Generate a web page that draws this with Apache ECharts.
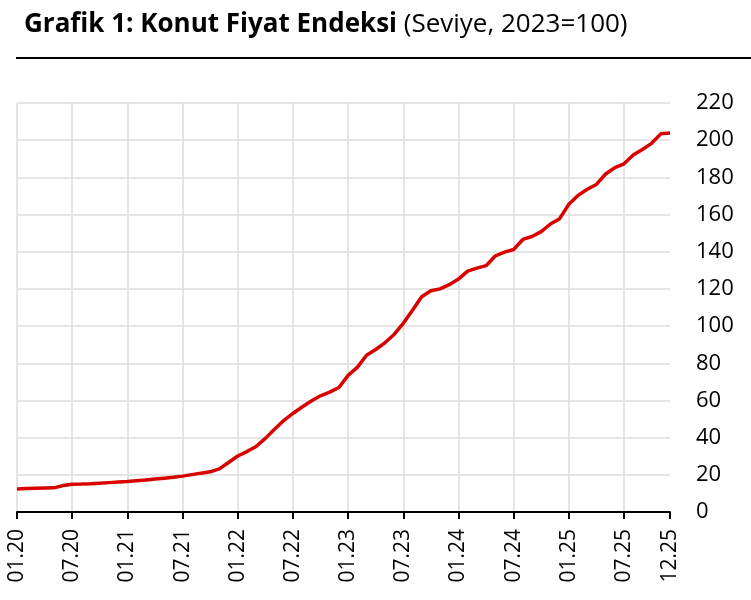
<!DOCTYPE html>
<html>
<head>
<meta charset="utf-8">
<script src="https://cdn.jsdelivr.net/npm/echarts@6/dist/echarts.min.js"></script>
<style>
html,body{margin:0;padding:0;background:#fff;}
#chart{width:751px;height:600px;}
</style>
</head>
<body>
<div id="chart"></div>
<script>
const titleBold = 'Grafik 1: Konut Fiyat Endeksi';
const titleNormal = ' (Seviye, 2023=100)';
const years = ['20','21','22','23','24','25'];
const categories = [];
years.forEach(y => { for (let m = 1; m <= 12; m++) categories.push((m < 10 ? '0' + m : '' + m) + '.' + y); });
const values = [
  12.4, 12.6, 12.8, 12.9, 13.0, 14.2, 14.9, 15.0, 15.2, 15.5, 15.8, 16.1,
  16.4, 16.8, 17.2, 17.7, 18.2, 18.7, 19.3, 20.1, 20.9, 21.6, 23.2, 26.6,
  30.1, 32.5, 35.2, 39.6, 44.5, 49.2, 53.0, 56.5, 59.7, 62.5, 64.5, 67.0,
  73.5, 77.8, 84.3, 87.4, 91.0, 95.5, 101.5, 108.5, 115.8, 119.0, 120.0, 122.3,
  125.3, 129.6, 131.2, 132.5, 137.7, 139.8, 141.2, 146.6, 148.2, 150.8, 154.9, 157.8,
  165.5, 170.3, 173.6, 176.2, 181.8, 185.2, 187.3, 192.0, 195.0, 198.3, 203.4, 203.9
];
const yMin = 0, yMax = 220, yStep = 20;

const chart = echarts.init(document.getElementById('chart'));
const lastIdx = categories.length - 1;
const showIdx = (i) => i % 6 === 0 || i === lastIdx;
chart.setOption({
  animation: false,
  backgroundColor: '#fff',
  textStyle: { fontFamily: 'Open Sans' },
  title: {
    left: 19, top: 7,
    text: '{b|' + titleBold + '}{n|' + titleNormal + '}',
    textStyle: {
      rich: {
        b: { fontFamily: 'Open Sans', fontWeight: 'bold', fontSize: 26, color: '#000' },
        n: { fontFamily: 'Open Sans', fontWeight: 'normal', fontSize: 26, color: '#000' }
      }
    }
  },
  graphic: [{
    type: 'line',
    shape: { x1: 16, y1: 58, x2: 751, y2: 58 },
    style: { stroke: '#000', lineWidth: 2 }
  }],
  grid: { left: 17, right: 81, top: 103, bottom: 88 },
  xAxis: {
    type: 'category',
    data: categories,
    boundaryGap: false,
    axisLine: { lineStyle: { color: '#000', width: 2 } },
    axisTick: { show: true, interval: showIdx, length: 7, lineStyle: { color: '#000', width: 2 } },
    axisLabel: { interval: showIdx, rotate: 90, margin: 17, fontSize: 21, color: '#000', fontFamily: 'Open Sans' },
    splitLine: { show: true, interval: (i) => i % 6 === 0, lineStyle: { color: '#dcdcdc', width: 1.5 } }
  },
  yAxis: {
    type: 'value',
    position: 'right',
    min: yMin, max: yMax, interval: yStep,
    axisLine: { show: false },
    axisTick: { show: false },
    axisLabel: { margin: 26, fontSize: 22, color: '#000', fontFamily: 'Open Sans' },
    splitLine: { show: true, lineStyle: { color: '#dcdcdc', width: 1.5 } }
  },
  series: [{
    type: 'line',
    data: values,
    symbol: 'none',
    lineStyle: { color: '#d90000', width: 3.5 },
    z: 5
  }]
});
</script>
</body>
</html>
